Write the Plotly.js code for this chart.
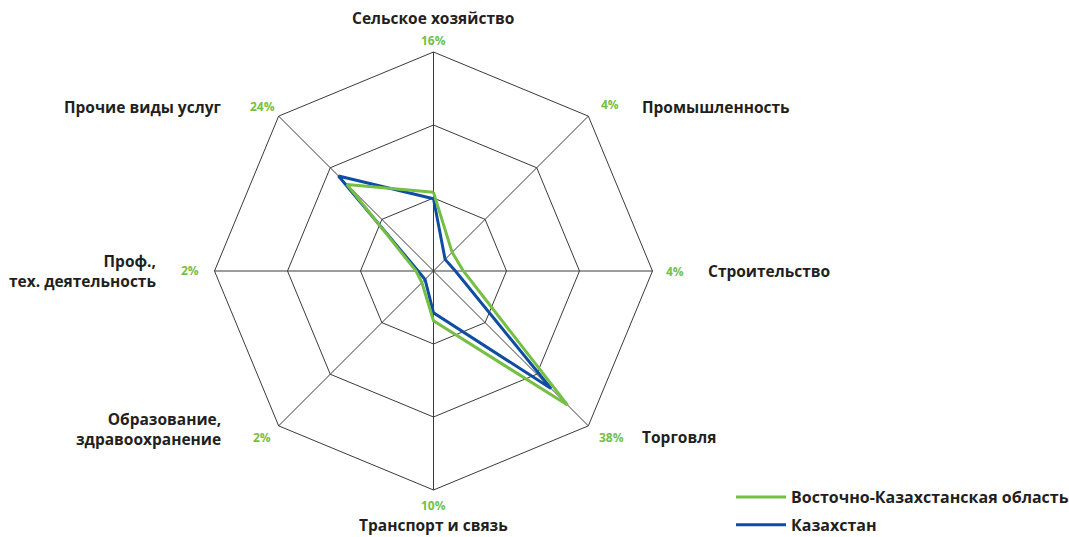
<!DOCTYPE html>
<html>
<head>
<meta charset="utf-8">
<script src="https://cdn.plot.ly/plotly-3.0.1.min.js"></script>
<style>html,body{margin:0;padding:0;background:#fff;}#chart{width:1069px;height:537px;}</style>
</head>
<body>
<div id="chart"></div>
<script>
// ---- data ----
const categories = ["Сельское хозяйство", "Промышленность", "Строительство", "Торговля",
  "Транспорт и связь", "Образование,<br>здравоохранение", "Проф.,<br>тех. деятельность", "Прочие виды услуг"];
const regionShareLabels = ["16%", "4%", "4%", "38%", "10%", "2%", "2%", "24%"];
const vkoValues = [15.8, 5.3, 6.0, 38.1, 10.0, 3.3, 3.5, 24.6];
const kzValues  = [14.5, 3.3, 4.4, 33.4, 8.4, 2.4, 3.1, 27.0];
const seriesNames = ["Восточно-Казахстанская область", "Казахстан"];

// ---- layout helpers ----
const W = 1069, H = 537;
const px = x => x / W, py = y => 1 - y / H;
const GREEN = "#74bf44", BLUE = "#0e4da1", TEXT = "#231f20";
const FONT = "'Open Sans', Lato, sans-serif";

// category label placement (pixel anchors)
const catPos = [
  {x: 433, y: 18, xa: "center"},
  {x: 640, y: 107, xa: "left"},
  {x: 706, y: 271, xa: "left"},
  {x: 640, y: 437, xa: "left"},
  {x: 433, y: 525, xa: "center"},
  {x: 223, y: 429, xa: "right"},
  {x: 158, y: 271, xa: "right"},
  {x: 223, y: 107, xa: "right"}
];
const pctPos = [
  {x: 433, y: 40}, {x: 610, y: 105}, {x: 675, y: 271}, {x: 611, y: 437},
  {x: 433, y: 505}, {x: 262, y: 437}, {x: 190, y: 270}, {x: 262, y: 106}
];

const annotations = [];
categories.forEach((c, i) => {
  annotations.push({
    text: "<b>" + c + "</b>", xref: "paper", yref: "paper",
    x: px(catPos[i].x), y: py(catPos[i].y), xanchor: catPos[i].xa, yanchor: "middle",
    align: catPos[i].xa === "right" ? "right" : (catPos[i].xa === "left" ? "left" : "center"),
    showarrow: false, font: {family: FONT, size: 15.5, color: TEXT}
  });
  annotations.push({
    text: "<b>" + regionShareLabels[i] + "</b>", xref: "paper", yref: "paper",
    x: px(pctPos[i].x), y: py(pctPos[i].y), xanchor: "center", yanchor: "middle",
    showarrow: false, font: {family: FONT, size: 12, color: GREEN}
  });
});

const closeLoop = a => a.concat([a[0]]);
const theta = closeLoop(categories);

const traces = [
  {type: "scatterpolar", r: closeLoop(kzValues), theta: theta, mode: "lines",
   name: seriesNames[1], legendgroup: "b", legendrank: 2, line: {color: BLUE, width: 3}, hoverinfo: "skip"},
  {type: "scatterpolar", r: closeLoop(vkoValues), theta: theta, mode: "lines",
   name: seriesNames[0], legendgroup: "a", legendrank: 1, line: {color: GREEN, width: 3}, hoverinfo: "skip"}
];

const layout = {
  width: W, height: H,
  margin: {l: 0, r: 0, t: 0, b: 0, autoexpand: false},
  paper_bgcolor: "#fff",
  showlegend: true,
  legend: {
    x: px(731), y: py(480), xanchor: "left", yanchor: "top",
    traceorder: "grouped", tracegroupgap: 4, itemwidth: 50,
    font: {family: FONT, size: 16, color: TEXT, weight: "bold"},
    bgcolor: "rgba(0,0,0,0)"
  },
  polar: {
    domain: {x: [px(214.5), px(652.5)], y: [py(490), py(52)]},
    gridshape: "linear",
    bgcolor: "#fff",
    radialaxis: {
      range: [0, 44], tickvals: [44/3, 88/3, 44], showticklabels: false,
      ticks: "", showline: false, gridcolor: "#3a3a3a", gridwidth: 1
    },
    angularaxis: {
      direction: "clockwise", rotation: 90, categoryarray: categories,
      showticklabels: false, ticks: "", showline: true, linecolor: "#3a3a3a", linewidth: 1,
      gridcolor: "#3a3a3a", gridwidth: 1
    }
  },
  annotations: annotations
};

Plotly.newPlot("chart", traces, layout, {displayModeBar: false, staticPlot: true});
</script>
</body>
</html>
